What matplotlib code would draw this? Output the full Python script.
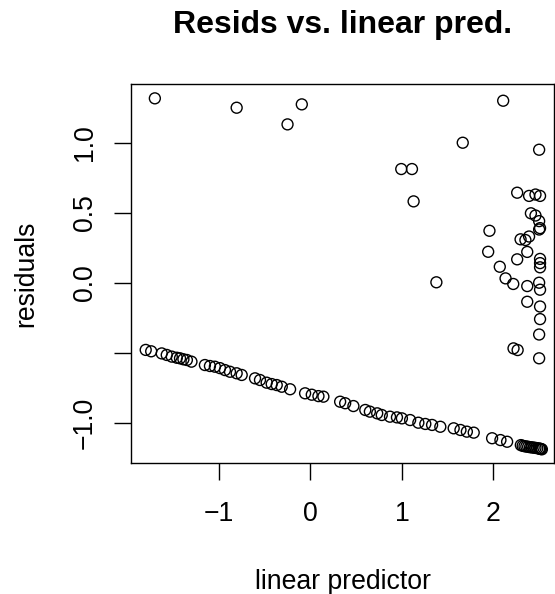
import matplotlib.pyplot as plt

plt.rcParams['font.family'] = ['Liberation Sans', 'DejaVu Sans']

# points off the line
x_upper = [-1.70, -0.806, -0.094, -0.25, 2.107, 1.665, 0.993, 1.11, 1.128,
           2.26, 2.39, 2.41, 1.957, 1.943, 2.297, 2.35, 2.39, 2.26, 2.07,
           2.37, 1.377, 2.133, 2.217, 2.37, 2.37, 2.22, 2.265,
           2.50, 2.46, 2.51, 2.46, 2.50, 2.51, 2.50, 2.51, 2.51, 2.51,
           2.50, 2.51, 2.51, 2.51, 2.50, 2.50]
r_upper = [1.317, 1.25, 1.274, 1.131, 1.30, 1.0, 0.812, 0.812, 0.581,
           0.643, 0.62, 0.496, 0.371, 0.221, 0.31, 0.305, 0.33, 0.167, 0.114,
           0.22, 0.003, 0.031, -0.009, -0.024, -0.136, -0.469, -0.481,
           0.95, 0.63, 0.62, 0.48, 0.44, 0.39, 0.38, 0.17, 0.14, 0.11,
           0.0, -0.05, -0.17, -0.26, -0.37, -0.54]

# points on the straight band
x_line = [-1.80, -1.74, -1.625, -1.57, -1.515, -1.46, -1.425, -1.388, -1.35,
          -1.30, -1.153, -1.098, -1.044, -0.989, -0.934, -0.879, -0.806,
          -0.751, -0.605, -0.551, -0.478, -0.423, -0.368, -0.313, -0.222,
          -0.058, 0.015, 0.088, 0.142, 0.325, 0.38, 0.47, 0.6, 0.65, 0.73,
          0.78, 0.87, 0.946, 1.0, 1.09, 1.18, 1.256, 1.33, 1.42, 1.566, 1.64,
          1.71, 1.785, 1.986, 2.077, 2.15, 2.30, 2.32, 2.34, 2.36, 2.38,
          2.40, 2.42, 2.44, 2.46, 2.48, 2.50, 2.51, 2.52, 2.53]
r_line = [-0.48, -0.49, -0.505, -0.516, -0.528, -0.536, -0.54, -0.547, -0.552,
          -0.564, -0.588, -0.595, -0.60, -0.61, -0.624, -0.636, -0.647,
          -0.659, -0.683, -0.695, -0.714, -0.724, -0.731, -0.743, -0.761,
          -0.79, -0.80, -0.81, -0.814, -0.85, -0.861, -0.881, -0.909, -0.921,
          -0.933, -0.945, -0.957, -0.962, -0.969, -0.981, -1.0, -1.009,
          -1.016, -1.029, -1.04, -1.052, -1.064, -1.071, -1.111, -1.124,
          -1.136, -1.16, -1.165, -1.168, -1.17, -1.172, -1.175, -1.176,
          -1.178, -1.18, -1.182, -1.185, -1.186, -1.188, -1.19]

x_ticks = [-1, 0, 1, 2]
y_ticks = [-1.0, -0.5, 0.0, 0.5, 1.0]
y_ticklabels = ['\u22121.0', '', '0.0', '0.5', '1.0']

fig = plt.figure(figsize=(5.55, 5.94), dpi=100)
ax = fig.add_axes([0.2355, 0.2205, 0.7618, 0.6375])

ax.scatter(x_upper + x_line, r_upper + r_line, s=62, facecolors='none',
           edgecolors='black', linewidths=1.0)

ax.set_xlim(-1.964, 2.657)
ax.set_ylim(-1.288, 1.417)
ax.set_xticks(x_ticks)
ax.set_xticklabels(['\u22121', '0', '1', '2'])
ax.set_yticks(y_ticks)
ax.set_yticklabels(y_ticklabels, rotation=90, va='center')
ax.tick_params(axis='both', direction='out', length=12, width=1.0,
               labelsize=19.2, color='black')
ax.tick_params(axis='x', pad=15)
ax.tick_params(axis='y', pad=11.5)
for s in ax.spines.values():
    s.set_linewidth(1.0)

fig.text(343 / 555, 1 - 33 / 594, 'Resids vs. linear pred.', fontsize=23,
         fontweight='bold', ha='center', va='baseline')
fig.text(343 / 555, 1 - 589 / 594, 'linear predictor', fontsize=19.2,
         ha='center', va='baseline')
fig.text(33 / 555, 1 - 273.6 / 594, 'residuals', fontsize=19.2, rotation=90,
         ha='center', va='baseline', rotation_mode='anchor')

fig.savefig('out.png', dpi=100)
